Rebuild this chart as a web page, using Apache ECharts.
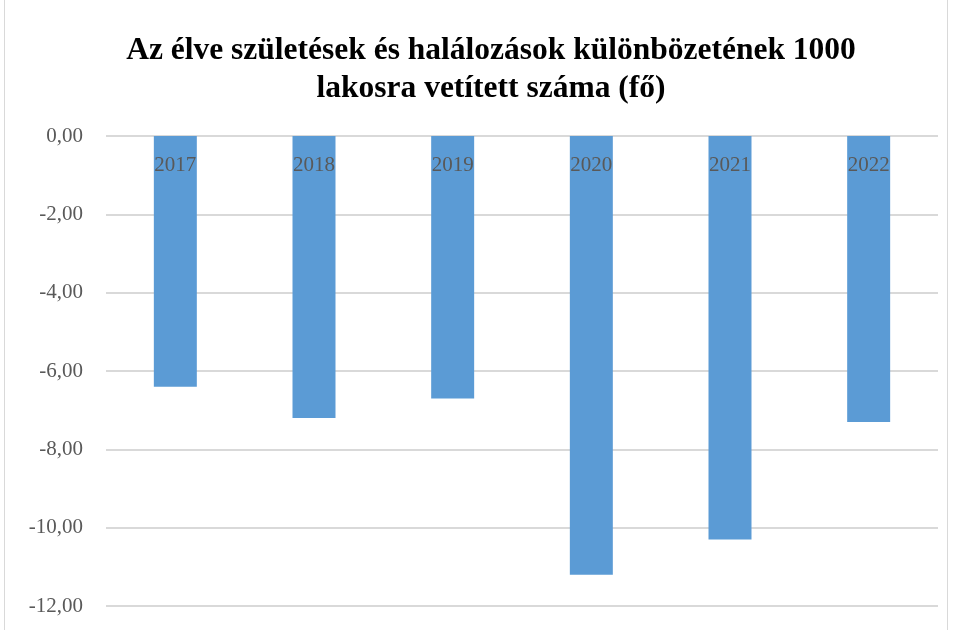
<!DOCTYPE html>
<html>
<head>
<meta charset="utf-8">
<script src="https://cdn.jsdelivr.net/npm/echarts@6/dist/echarts.min.js"></script>
<style>
  html, body { margin: 0; padding: 0; background: #fff; }
  #chart { width: 953px; height: 630px; }
</style>
</head>
<body>
<div id="chart"></div>
<script>
// adatok
const years = ['2017', '2018', '2019', '2020', '2021', '2022'];
const values = [-6.4, -7.2, -6.7, -11.2, -10.3, -7.3];

const chart = echarts.init(document.getElementById('chart'));
const option = {
  backgroundColor: '#fff',
  animation: false,
  title: {
    text: 'Az élve születések és halálozások különbözetének 1000\nlakosra vetített száma (fő)',
    left: 486,
    top: 27,
    textAlign: 'center',
    textStyle: {
      fontFamily: 'Liberation Serif',
      fontWeight: 'bold',
      fontSize: 31.5,
      lineHeight: 38,
      color: '#000'
    }
  },
  graphic: [{
    type: 'rect',
    shape: { x: 4.5, y: -2, width: 943, height: 640 },
    style: { fill: 'none', stroke: '#d9d9d9', lineWidth: 1 },
    silent: true
  }],
  grid: { left: 106, right: 15, top: 136, bottom: 24, outerBoundsMode: 'none' },
  xAxis: {
    type: 'category',
    position: 'top',
    data: years,
    axisLine: { show: false },
    axisTick: { show: false },
    axisLabel: {
      inside: true,
      margin: 19,
      fontFamily: 'Liberation Serif',
      fontSize: 21,
      color: '#595959'
    },
    z: 5
  },
  yAxis: {
    type: 'value',
    min: -12,
    max: 0,
    interval: 2,
    axisLine: { show: false },
    axisTick: { show: false },
    splitLine: { lineStyle: { color: '#d9d9d9', width: 2 } },
    axisLabel: {
      margin: 23,
      fontFamily: 'Liberation Serif',
      fontSize: 21,
      color: '#595959',
      formatter: v => v.toFixed(2).replace('.', ',')
    }
  },
  series: [{
    type: 'bar',
    data: values,
    barWidth: '31%',
    z: 1,
    itemStyle: { color: '#5b9bd5' }
  }]
};
chart.setOption(option);
</script>
</body>
</html>
